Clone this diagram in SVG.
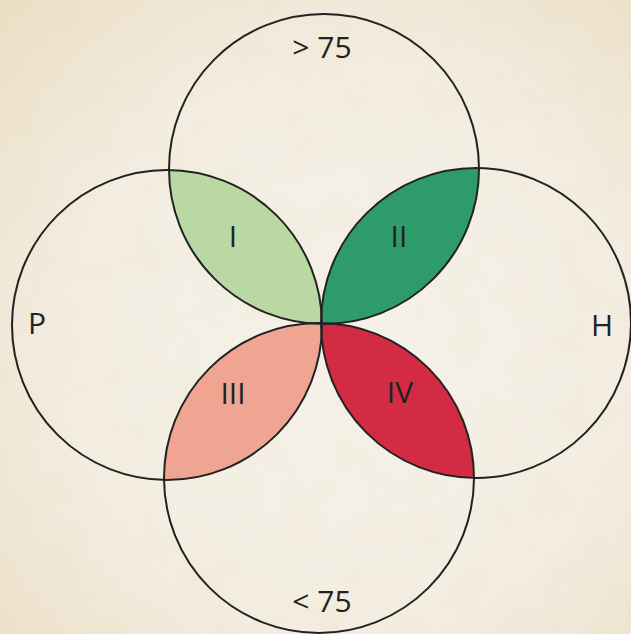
<svg xmlns="http://www.w3.org/2000/svg" width="631" height="634" viewBox="0 0 631 634">
  <defs>
    <radialGradient id="bg" cx="0.55" cy="0.55" r="0.75">
      <stop offset="0" stop-color="#f6f2ea"/>
      <stop offset="0.6" stop-color="#f3ede1"/>
      <stop offset="1" stop-color="#ebdfc6"/>
    </radialGradient>
    <filter id="paper" x="0" y="0" width="100%" height="100%">
      <feTurbulence type="fractalNoise" baseFrequency="0.025" numOctaves="4" seed="7" result="n"/>
      <feColorMatrix in="n" type="matrix" values="0 0 0 0 0.82  0 0 0 0 0.74  0 0 0 0 0.55  0 0 0 1.4 -0.6"/>
    </filter>
    <clipPath id="cTop"><circle cx="324" cy="169" r="155"/></clipPath>
    <clipPath id="cBot"><circle cx="319" cy="478" r="155"/></clipPath>
    <style>
      .ring { fill: none; stroke: #222; stroke-width: 2; }
      .lbl { font-family: "Open Sans", "Liberation Sans", sans-serif; font-size: 30px; font-weight: 500; fill: #222; text-anchor: middle; }
    </style>
  </defs>

  <rect width="631" height="634" fill="url(#bg)"/>
  <rect width="631" height="634" filter="url(#paper)" opacity="0.3"/>

  <g id="lens-I">
    <circle cx="167" cy="325" r="155" fill="#b9d8a3" clip-path="url(#cTop)"/>
    <text class="lbl" x="233" y="247">I</text>
  </g>
  <g id="lens-II">
    <circle cx="476" cy="323" r="155" fill="#2e9c6a" clip-path="url(#cTop)"/>
    <text class="lbl" x="399" y="247">II</text>
  </g>
  <g id="lens-III">
    <circle cx="167" cy="325" r="155" fill="#efa591" clip-path="url(#cBot)"/>
    <text class="lbl" x="233" y="404">III</text>
  </g>
  <g id="lens-IV">
    <circle cx="476" cy="323" r="155" fill="#d42b45" clip-path="url(#cBot)"/>
    <text class="lbl" x="400" y="403">IV</text>
  </g>

  <g id="circle-top">
    <circle class="ring" cx="324" cy="169" r="155"/>
    <text class="lbl" x="322" y="58">&gt; 75</text>
  </g>
  <g id="circle-left">
    <circle class="ring" cx="167" cy="325" r="155"/>
    <text class="lbl" x="37" y="334">P</text>
  </g>
  <g id="circle-right">
    <circle class="ring" cx="476" cy="323" r="155"/>
    <text class="lbl" x="602" y="336">H</text>
  </g>
  <g id="circle-bottom">
    <circle class="ring" cx="319" cy="478" r="155"/>
    <text class="lbl" x="322" y="612">&lt; 75</text>
  </g>
  <g id="connectors"/>
</svg>
